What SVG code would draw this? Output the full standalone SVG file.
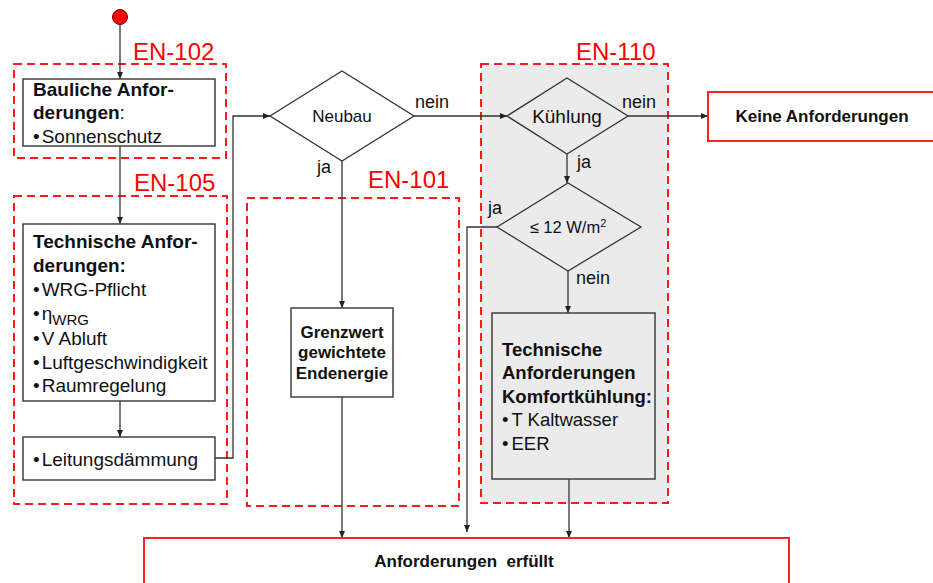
<svg xmlns="http://www.w3.org/2000/svg" width="933" height="583" viewBox="0 0 933 583">
<style>
text{font-family:"Liberation Sans",Arial,sans-serif;fill:#111}
.zone{fill:none;stroke:#ff1a1a;stroke-width:2;stroke-dasharray:8 5}
.zl{font-size:24px;fill:#ff0000}
.box{fill:#fff;stroke:#404040;stroke-width:1.5}
.gbox{fill:#ebebeb;stroke:#404040;stroke-width:1.5}
.rbox{fill:#fff;stroke:#ff2020;stroke-width:2}
.dia{fill:none;stroke:#333;stroke-width:1.3}
.c{fill:none;stroke:#333;stroke-width:1.3}
.b{font-weight:bold}
.t19{font-size:19px}
.t185{font-size:18.5px}
.t17{font-size:17px}
.lab{font-size:18px}
</style>
<defs>
<marker id="ah" markerWidth="8" markerHeight="8" refX="7" refY="4" orient="auto" markerUnits="userSpaceOnUse">
<path d="M0,1 L7,4 L0,7 Z" fill="#222"/>
</marker>
</defs>
<rect width="933" height="583" fill="#fff"/>

<g id="zone-en110">
<rect x="481" y="64" width="187" height="439" fill="#ebebeb" stroke="none"/>
<rect class="zone" x="481" y="64" width="187" height="439"/>
<text class="zl" x="576" y="60">EN-110</text>
</g>
<g id="zone-en102">
<rect class="zone" x="14" y="64" width="212" height="94"/>
<text class="zl" x="133" y="60">EN-102</text>
</g>
<g id="zone-en105">
<rect class="zone" x="14" y="196" width="213" height="308"/>
<text class="zl" x="134" y="191">EN-105</text>
</g>
<g id="zone-en101">
<rect class="zone" x="247" y="198" width="212" height="308"/>
<text class="zl" x="368" y="188">EN-101</text>
</g>

<g id="connectors">
<line class="c" x1="120" y1="24" x2="120" y2="79" marker-end="url(#ah)"/>
<line class="c" x1="120" y1="146" x2="120" y2="224" marker-end="url(#ah)"/>
<line class="c" x1="120" y1="401" x2="120" y2="437" marker-end="url(#ah)"/>
<polyline class="c" points="215,458 233,458 233,116 270,116" marker-end="url(#ah)"/>
<line class="c" x1="414" y1="116" x2="507" y2="116" marker-end="url(#ah)"/>
<line class="c" x1="628" y1="116" x2="708" y2="116" marker-end="url(#ah)"/>
<line class="c" x1="342" y1="161" x2="342" y2="308" marker-end="url(#ah)"/>
<line class="c" x1="342" y1="397" x2="342" y2="538" marker-end="url(#ah)"/>
<line class="c" x1="567" y1="154" x2="567" y2="183" marker-end="url(#ah)"/>
<polyline class="c" points="497,227 467,227 467,532" marker-end="url(#ah)"/>
<line class="c" x1="568" y1="271" x2="568" y2="313" marker-end="url(#ah)"/>
<line class="c" x1="569" y1="479" x2="569" y2="538" marker-end="url(#ah)"/>
<text class="lab" x="415" y="108">nein</text>
<text class="lab" x="317" y="173">ja</text>
<text class="lab" x="622" y="108">nein</text>
<text class="lab" x="577" y="168">ja</text>
<text class="lab" x="488" y="214">ja</text>
<text class="lab" x="576" y="284">nein</text>
</g>

<g id="start">
<circle cx="120" cy="17" r="7.5" fill="#ff0000" stroke="#700" stroke-width="1"/>
</g>

<g id="bauliche">
<rect class="box" x="23" y="79" width="192" height="67"/>
<text class="t19 b" x="33" y="96">Bauliche Anfor-</text>
<text class="t19" x="33" y="119"><tspan class="b">derungen</tspan>:</text>
<text class="t19" x="33" y="143">•<tspan dx="2">Sonnenschutz</tspan></text>
</g>

<g id="technische">
<rect class="box" x="23" y="224" width="192" height="177"/>
<text class="t19 b" x="33" y="248">Technische Anfor-</text>
<text class="t19 b" x="33" y="272">derungen:</text>
<text class="t19" x="33" y="296">•<tspan dx="2">WRG-Pflicht</tspan></text>
<text class="t19" x="33" y="320">•<tspan dx="2">η</tspan><tspan font-size="15" dy="5">WRG</tspan></text>
<text class="t19" x="33" y="345">•<tspan dx="2">V Abluft</tspan></text>
<text class="t19" x="33" y="369">•<tspan dx="2">Luftgeschwindigkeit</tspan></text>
<text class="t19" x="33" y="392">•<tspan dx="2">Raumregelung</tspan></text>
</g>

<g id="leitung">
<rect class="box" x="23" y="437" width="192" height="43"/>
<text class="t19" x="33" y="466">•<tspan dx="2">Leitungsdämmung</tspan></text>
</g>

<g id="neubau">
<polygon class="dia" points="270,116 342,71 414,116 342,161" fill="#fff"/>
<text class="t17" x="342" y="122" text-anchor="middle">Neubau</text>
</g>

<g id="grenzwert">
<rect class="box" x="291" y="308" width="102" height="89"/>
<text class="t17 b" x="342" y="338" text-anchor="middle">Grenzwert</text>
<text class="t17 b" x="342" y="358" text-anchor="middle">gewichtete</text>
<text class="t17 b" x="342" y="379" text-anchor="middle">Endenergie</text>
</g>

<g id="kuehlung">
<polygon class="dia" points="507,116 567,78 628,116 567,154"/>
<text x="567" y="123" font-size="19" text-anchor="middle">Kühlung</text>
</g>

<g id="w12">
<polygon class="dia" points="497,227 568,183 641,227 568,271"/>
<text x="568" y="233" font-size="16.5" text-anchor="middle">≤ 12 W/m<tspan font-size="11" dy="-6">2</tspan></text>
</g>

<g id="komfort">
<rect class="gbox" x="492" y="313" width="163" height="166"/>
<text class="t185 b" x="502" y="356">Technische</text>
<text class="t185 b" x="502" y="379">Anforderungen</text>
<text class="t185 b" x="502" y="403">Komfortkühlung:</text>
<text class="t185" x="502" y="426">•<tspan dx="3">T Kaltwasser</tspan></text>
<text class="t185" x="502" y="450">•<tspan dx="3">EER</tspan></text>
</g>

<g id="keine">
<rect class="rbox" x="708" y="92" width="240" height="49"/>
<text class="t17 b" x="822" y="122" text-anchor="middle">Keine Anforderungen</text>
</g>

<g id="erfuellt">
<rect class="rbox" x="144" y="538" width="645" height="60"/>
<text class="t17 b" x="464" y="567" text-anchor="middle" xml:space="preserve">Anforderungen  erfüllt</text>
</g>
</svg>
